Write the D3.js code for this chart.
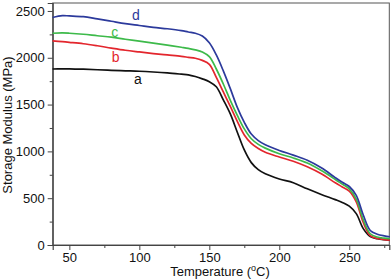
<!DOCTYPE html>
<head>
    <script src="https://d3js.org/d3.v7.min.js"></script>
    <style>
        body{ margin: 0; background: #fff; }
        svg{ display: block; }
        .tick text{ font-family: "Liberation Sans", Arial, sans-serif; font-size: 13px; fill: #111; }
        .axisLabel{ font-family: "Liberation Sans", Arial, sans-serif; font-size: 13px; fill: #111; }
        .curveLabel{ font-family: "Liberation Sans", Arial, sans-serif; font-size: 14px; }
    </style>
</head>
<body>
    <svg id="chart" width="392" height="279"></svg>
    <script>
        // temperatures (°C) shared by all curves
        var temps = [38, 45, 50, 60, 70, 80, 90, 100, 110, 120, 130, 135, 140, 145, 150, 155, 160, 165, 170, 175,
                     180, 185, 190, 200, 210, 220, 230, 240, 245, 250, 255, 260, 265, 270, 275, 279];

        // storage modulus (MPa)
        var seriesA = [1880, 1882, 1882, 1878, 1872, 1866, 1861, 1856, 1848, 1838, 1825, 1818, 1800, 1775, 1745, 1690, 1550, 1400, 1205, 1015,
                       880, 805, 760, 705, 665, 600, 540, 485, 455, 415, 335, 175, 90, 68, 57, 52];
        var seriesB = [2180, 2172, 2165, 2150, 2128, 2103, 2080, 2062, 2045, 2030, 2015, 2005, 1995, 1972, 1930, 1790, 1635, 1480, 1320, 1175,
                       1085, 1030, 990, 940, 895, 835, 760, 665, 620, 575, 460, 240, 100, 70, 58, 53];
        var seriesC = [2262, 2265, 2262, 2251, 2235, 2220, 2198, 2178, 2157, 2135, 2112, 2100, 2085, 2062, 2012, 1880, 1720, 1545, 1385, 1240,
                       1135, 1075, 1035, 975, 930, 875, 795, 700, 650, 600, 490, 270, 120, 85, 73, 68];
        var seriesD = [2430, 2450, 2447, 2439, 2415, 2390, 2365, 2345, 2325, 2310, 2290, 2275, 2262, 2232, 2160, 2030, 1860, 1670, 1470, 1310,
                       1185, 1115, 1070, 1010, 960, 905, 825, 720, 670, 625, 530, 320, 155, 115, 97, 88];

        var seriesNames = ["a", "b", "c", "d"];
        var seriesColors = ["#111111", "#e3262d", "#3dba4a", "#2c3a9c"];
        var labelPos = [[99, 1774], [83, 2009], [82.5, 2276], [97.5, 2457]]; // [temp, value] at the letter's centre

        var xTicks = [50, 100, 150, 200, 250];
        var yTicks = [0, 500, 1000, 1500, 2000, 2500];

        var svg = d3.select("#chart");
        var margin = {left: 52.7, right: 2.7, top: 3, bottom: 34};
        var width = 392 - margin.left - margin.right,
            height = 279 - margin.top - margin.bottom;

        var g = svg.append("g").attr("transform", "translate(" + margin.left + "," + margin.top + ")");

        var x = d3.scaleLinear().domain([38.1, 278.6]).range([0, width]);
        var y = d3.scaleLinear().domain([0, 2585]).range([height, 0]);

        // frame
        g.append("rect")
            .attr("width", width).attr("height", height)
            .attr("fill", "none").attr("stroke", "#555").attr("stroke-width", 1);

        // minor ticks
        g.append("g").attr("transform", "translate(0," + height + ")")
            .call(d3.axisBottom(x).tickValues(d3.range(75, 279, 50)).tickSize(3).tickFormat(""))
            .call(a => a.select(".domain").remove());
        g.append("g")
            .call(d3.axisLeft(y).tickValues(d3.range(250, 2585, 500)).tickSize(3).tickFormat(""))
            .call(a => a.select(".domain").remove());

        // major axes
        g.append("g").attr("transform", "translate(0," + height + ")")
            .call(d3.axisBottom(x).tickValues(xTicks).tickSize(5).tickPadding(3).tickFormat(d3.format("d")));
        g.append("g")
            .call(d3.axisLeft(y).tickValues(yTicks).tickSize(5).tickPadding(3).tickFormat(d3.format("d")));

        g.selectAll(".domain").attr("stroke", "#444").attr("stroke-width", 1.2);
        g.selectAll(".tick line").attr("stroke", "#444");

        // curves
        var line = d3.line()
            .x(d => x(d[0]))
            .y(d => y(d[1]))
            .curve(d3.curveCatmullRom.alpha(0.5));

        [seriesA, seriesB, seriesC, seriesD].forEach(function(vals, i){
            g.append("path")
                .datum(temps.map((t, j) => [t, vals[j]]))
                .attr("d", line)
                .attr("fill", "none")
                .attr("stroke", seriesColors[i])
                .attr("stroke-width", 1.7);

            g.append("text")
                .attr("class", "curveLabel")
                .attr("x", x(labelPos[i][0]))
                .attr("y", y(labelPos[i][1]))
                .attr("dy", "0.35em")
                .attr("text-anchor", "middle")
                .attr("fill", seriesColors[i])
                .text(seriesNames[i]);
        });

        // axis titles
        var xt = svg.append("text")
            .attr("class", "axisLabel")
            .attr("x", 220)
            .attr("y", 276)
            .attr("text-anchor", "middle");
        xt.append("tspan").text("Temperature (");
        xt.append("tspan").attr("dy", -5).attr("font-size", "9px").text("o");
        xt.append("tspan").attr("dy", 5).text("C)");

        svg.append("text")
            .attr("class", "axisLabel")
            .attr("transform", "translate(12,125) rotate(-90)")
            .attr("text-anchor", "middle")
            .text("Storage Modulus (MPa)");
    </script>
</body>
</html>
